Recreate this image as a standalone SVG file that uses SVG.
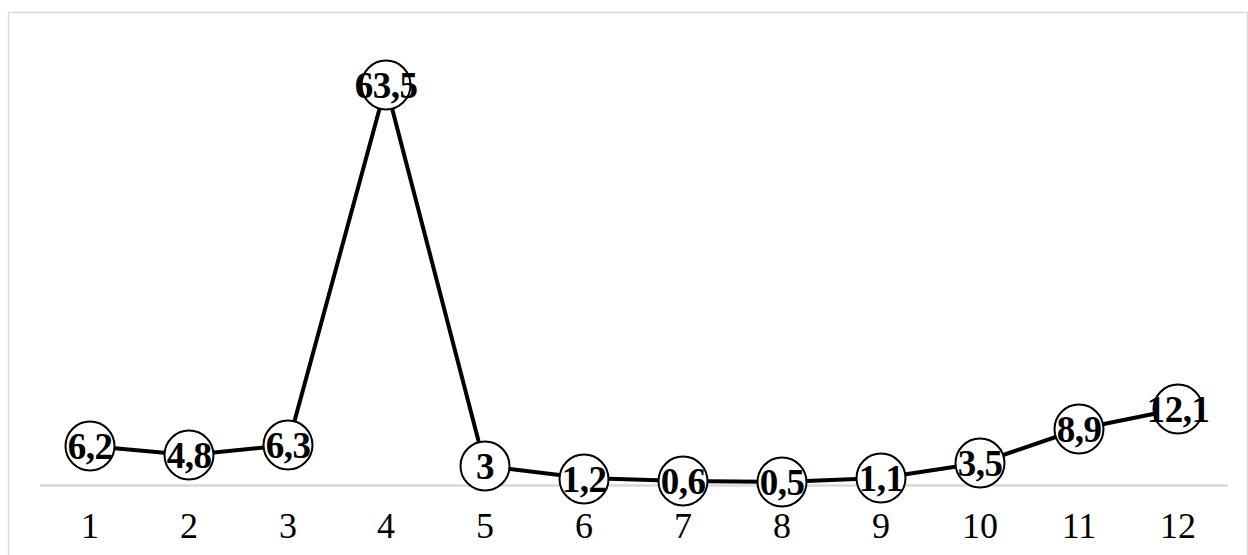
<svg xmlns="http://www.w3.org/2000/svg" width="1248" height="555" viewBox="0 0 1248 555">
<style>
.pt circle{fill:#fff;stroke:#000;stroke-width:2}
.pt text{font-family:"Liberation Serif","Times New Roman",serif;font-weight:bold;font-size:37px;text-anchor:middle;fill:#000;letter-spacing:-0.5px}
.ax{font-family:"Liberation Serif","Times New Roman",serif;font-size:36px;text-anchor:middle;fill:#000}
</style>
<rect x="0" y="0" width="1248" height="555" fill="#fff"/>
<rect x="8.5" y="12.5" width="1239" height="560" fill="none" stroke="#d9d9d9" stroke-width="1.5"/>
<line x1="40" y1="485.5" x2="1228" y2="485.5" stroke="#d9d9d9" stroke-width="2.5"/>
<g id="connectors">
<polyline points="90,446 189,455 288,445 386,85 485,466 584,478 683,481 782,482 881,478 980,463 1079,429 1178,409" fill="none" stroke="#000" stroke-width="4" stroke-linejoin="round"/>
</g>
<g id="p1" class="pt"><circle cx="90" cy="446" r="24.5"/><text x="90" y="459">6,2</text></g>
<g id="p2" class="pt"><circle cx="189" cy="455" r="24.5"/><text x="189" y="468">4,8</text></g>
<g id="p3" class="pt"><circle cx="288" cy="445" r="24.5"/><text x="288" y="458">6,3</text></g>
<g id="p4" class="pt"><circle cx="386" cy="85" r="24.5"/><text x="386" y="98">63,5</text></g>
<g id="p5" class="pt"><circle cx="485" cy="466" r="24.5"/><text x="485" y="479">3</text></g>
<g id="p6" class="pt"><circle cx="584" cy="479" r="24.5"/><text x="584" y="492">1,2</text></g>
<g id="p7" class="pt"><circle cx="683" cy="481" r="24.5"/><text x="683" y="494">0,6</text></g>
<g id="p8" class="pt"><circle cx="782" cy="482" r="24.5"/><text x="782" y="495">0,5</text></g>
<g id="p9" class="pt"><circle cx="881" cy="478" r="24.5"/><text x="881" y="491">1,1</text></g>
<g id="p10" class="pt"><circle cx="980" cy="463" r="24.5"/><text x="980" y="476">3,5</text></g>
<g id="p11" class="pt"><circle cx="1079" cy="429" r="24.5"/><text x="1079" y="442">8,9</text></g>
<g id="p12" class="pt"><circle cx="1178" cy="409" r="24.5"/><text x="1178" y="422">12,1</text></g>
<g id="xaxis">
<text class="ax" x="90" y="538">1</text>
<text class="ax" x="189" y="538">2</text>
<text class="ax" x="288" y="538">3</text>
<text class="ax" x="386" y="538">4</text>
<text class="ax" x="485" y="538">5</text>
<text class="ax" x="584" y="538">6</text>
<text class="ax" x="683" y="538">7</text>
<text class="ax" x="782" y="538">8</text>
<text class="ax" x="881" y="538">9</text>
<text class="ax" x="980" y="538">10</text>
<text class="ax" x="1079" y="538">11</text>
<text class="ax" x="1178" y="538">12</text>
</g>
</svg>
